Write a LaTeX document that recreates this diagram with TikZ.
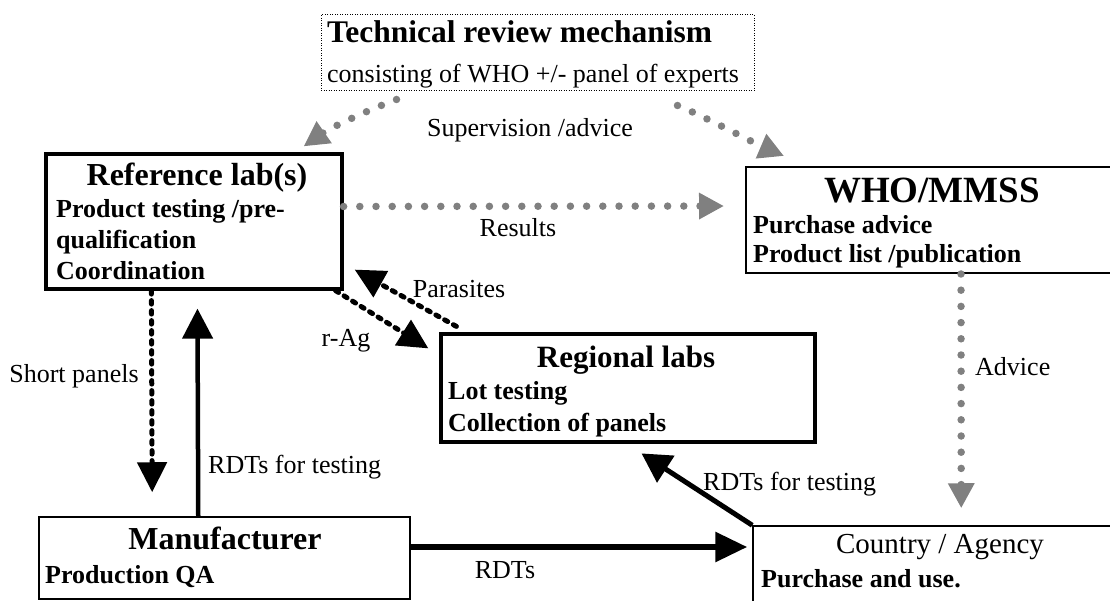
\documentclass[tikz,border=0pt]{standalone}
\usepackage{fontspec}
\setmainfont{Liberation Serif}
\usetikzlibrary{arrows.meta, positioning, calc}
\tikzset{
    box/.style={draw, rectangle, inner sep=0pt},
    thickbox/.style={box, line width=3.2pt},
    midbox/.style={box, line width=2pt},
    thinbox/.style={box, line width=1.5pt},
    dotbox/.style={box, line width=1pt, dash pattern=on 1pt off 1.5pt},
    boxtitle/.style={inner sep=0pt, anchor=base, font=\fontsize{32}{38}\selectfont\bfseries},
    boxline/.style={inner sep=0pt, anchor=base west, font=\fontsize{26}{31}\selectfont\bfseries},
    flowlabel/.style={inner sep=0pt, anchor=base, font=\fontsize{26}{31}\selectfont},
    grayflow/.style={gray, line width=7.5pt, line cap=round, dash pattern=on 0pt off 16.2pt,
        -{Triangle[length=25pt,width=25pt]}},
    dashflow/.style={black, line width=5pt, line cap=round, dash pattern=on 3.5pt off 6.5pt,
        -{Triangle[length=30pt,width=29pt]}},
    solidflow/.style={black, line width=4.5pt, -{Triangle[length=30pt,width=30pt]}}
}
\begin{document}
\begin{tikzpicture}[x=1pt, y=-1pt]
    \useasboundingbox (0,0) rectangle (1110,601);
    \clip (0,0) rectangle (1110,601);

    % boxes
    \node[dotbox, minimum width=433pt, minimum height=76pt] (tech) at (537.5,53) {};
    \node[thickbox, minimum width=296pt, minimum height=135pt] (ref) at (194,221.5) {};
    \node[midbox, minimum width=384pt, minimum height=106pt] (who) at (938,220) {};
    \node[thickbox, minimum width=374pt, minimum height=108pt] (regional) at (628,388) {};
    \node[thinbox, minimum width=371pt, minimum height=82pt] (manu) at (224.5,558) {};
    \node[thinbox, minimum width=377pt, minimum height=99pt] (country) at (941.5,575.5) {};

    % box texts
    \node[boxline, font=\fontsize{31.5}{38}\selectfont\bfseries] (techTitle) at (327,43) {Technical review mechanism};
    \node[boxline, font=\fontsize{26}{31}\selectfont] (techSub) at (327,83) {consisting of WHO +/- panel of experts};

    \node[boxtitle] (refTitle) at (197,186) {Reference lab(s)};
    \node[boxline] (refA) at (56,218) {Product testing /pre-};
    \node[boxline] (refB) at (56,249) {qualification};
    \node[boxline] (refC) at (56,280) {Coordination};

    \node[boxtitle, font=\fontsize{37}{44}\selectfont\bfseries] (whoTitle) at (932,203) {WHO/MMSS};
    \node[boxline] (whoA) at (753,234) {Purchase advice};
    \node[boxline] (whoB) at (753,263) {Product list /publication};

    \node[boxtitle, font=\fontsize{31}{37}\selectfont\bfseries] (regTitle) at (626,367) {Regional labs};
    \node[boxline] (regA) at (448,399) {Lot testing};
    \node[boxline] (regB) at (448,431) {Collection of panels};

    \node[boxtitle] (manuTitle) at (225,549) {Manufacturer};
    \node[boxline] (manuA) at (45,583) {Production QA};

    \node[boxtitle, font=\fontsize{29}{35}\selectfont] (countryTitle) at (940,553) {Country / Agency};
    \node[boxline] (countryA) at (761,587) {Purchase and use.};

    % supervision
    \coordinate (supA) at ($(tech.south west)+(76,8)$);
    \coordinate (supB) at ($(tech.south east)+(-77,14)$);
    \draw[grayflow] (supA) .. controls ($(supA)+(-32,12)$) and ($(ref.north east)+(-14,-24)$) .. ($(ref.north east)+(-40,-6)$);
    \draw[grayflow] (supB) .. controls ($(supB)+(25,10)$) and ($(who.north west)+(11,-22)$) .. ($(who.north west)+(39,-10)$);
    \draw[grayflow, shorten >=21pt] ([yshift=15pt]ref.east) -- ([yshift=14pt]who.west);
    \draw[grayflow, shorten >=17pt] ([xshift=216pt]who.south west) -- ([xshift=209pt]country.north west);

    % samples
    \draw[dashflow, shorten >=24pt] ([xshift=107pt]ref.south west) -- ([xshift=114pt]manu.north west);
    \draw[solidflow, shorten >=18pt] ([xshift=160pt]manu.north west) -- ([xshift=153pt]ref.south west);
    \draw[dashflow] ([xshift=-8pt]ref.south east) -- ($(regional.north west)+(-11,16)$);
    \draw[dashflow] ($(regional.north west)+(17,-6)$) -- ($(ref.south east)+(11,-21)$);
    \draw[solidflow, line width=5pt, -{Triangle[length=29pt,width=31pt]}, shorten >=18pt] (country.north west) -- ([xshift=187pt]regional.south west);
    \draw[solidflow, line width=6pt, -{Triangle[length=32pt,width=29pt]}, shorten >=5pt] ([yshift=11pt]manu.east) -- ([yshift=28.5pt]country.west);

    % labels
    \node[flowlabel] (supLbl) at (530,137) {Supervision /advice};
    \node[flowlabel] (resLbl) at (518,237) {Results};
    \node[flowlabel] (parLbl) at (459,298) {Parasites};
    \node[flowlabel] (ragLbl) at (346,346) {r-Ag};
    \node[flowlabel] (shortLbl) at (74,382) {Short panels};
    \node[flowlabel, anchor=base west] (rdtLbl) at (208,473) {RDTs for testing};
    \node[flowlabel, anchor=base west] (advLbl) at (975,375) {Advice};
    \node[flowlabel, anchor=base west] (rdtLblB) at (703,490) {RDTs for testing};
    \node[flowlabel] (rdtsLbl) at (505,578) {RDTs};
\end{tikzpicture}
\end{document}
